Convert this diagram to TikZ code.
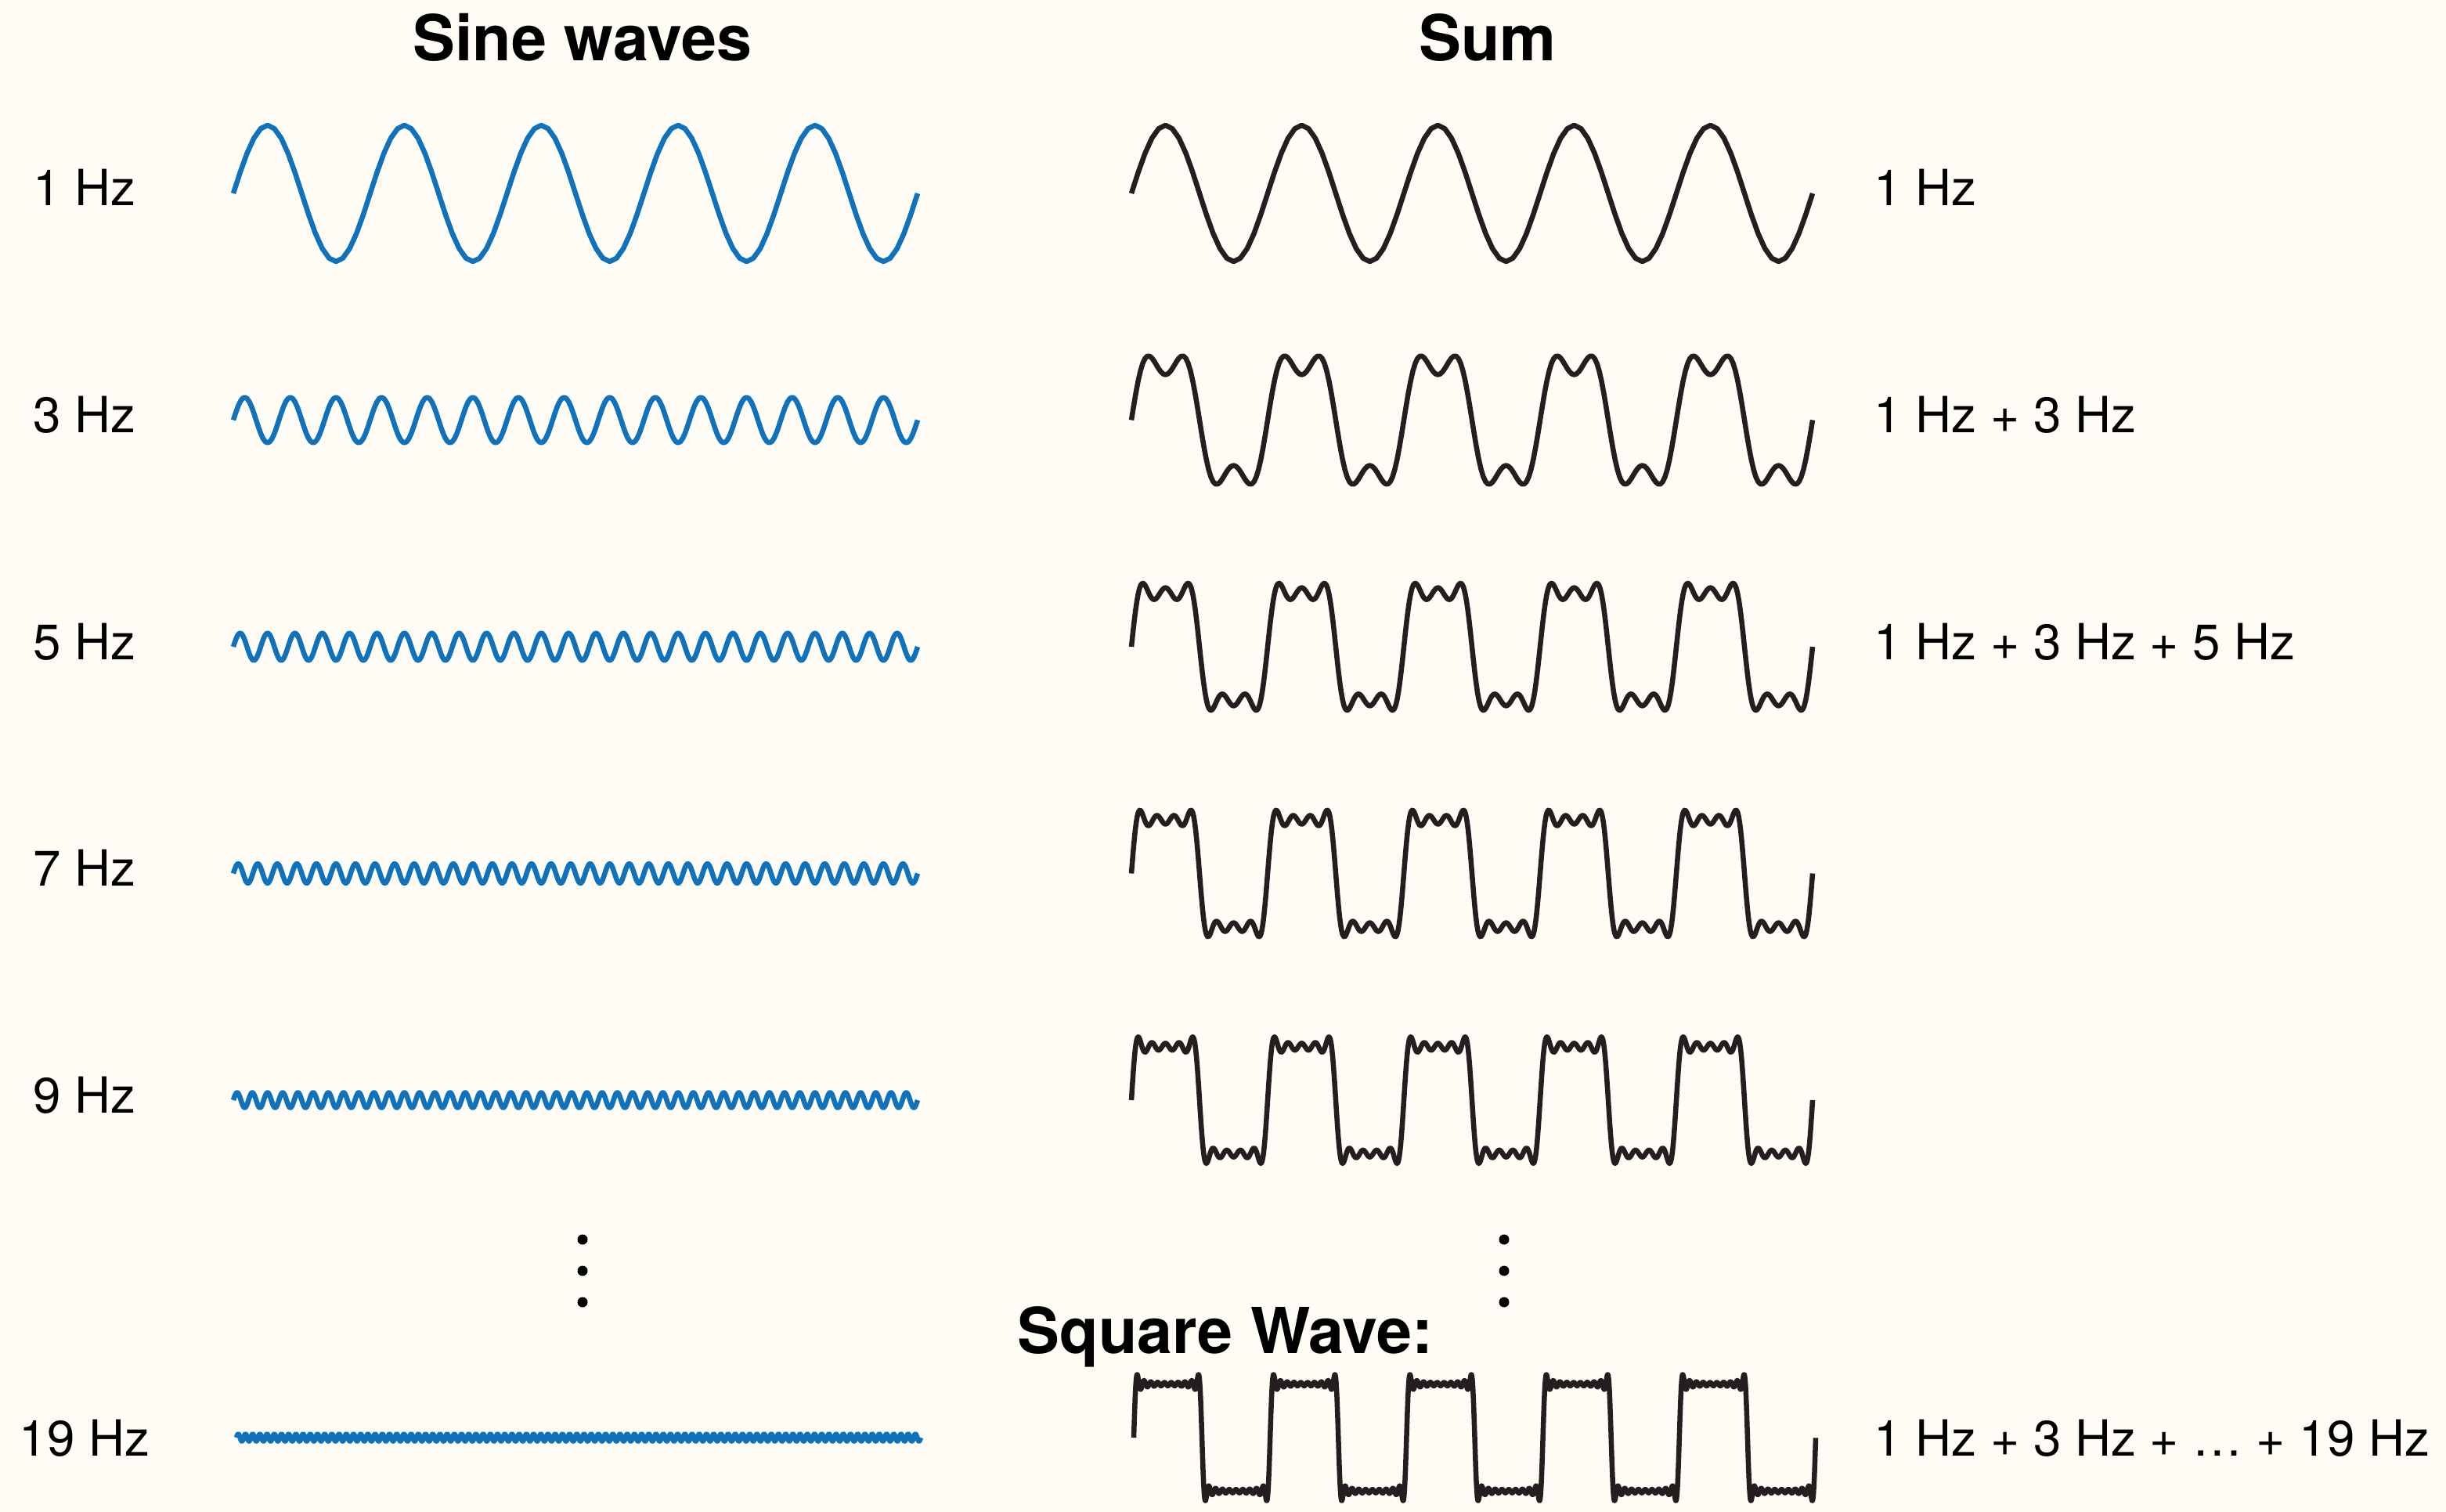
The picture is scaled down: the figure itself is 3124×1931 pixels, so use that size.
\documentclass[tikz,border=0pt]{standalone}
\usepackage{fontspec}
\setmainfont{TeX Gyre Heros}
\usepackage{tikz}
\usetikzlibrary{positioning}

\definecolor{paper}{HTML}{FFFCF5}
\definecolor{sineblue}{HTML}{0F72BA}
\definecolor{sumblack}{HTML}{231F20}

\begin{document}
\begin{tikzpicture}[x=0.01cm, y=-0.01cm,
    declare function={hm(\t,\k)=sin(\k*mod(\t,360))/\k;
      suma(\t)=hm(\t,1);
      sumb(\t)=suma(\t)+hm(\t,3);
      sumc(\t)=sumb(\t)+hm(\t,5);
      sumd(\t)=sumc(\t)+hm(\t,7);
      sume(\t)=sumd(\t)+hm(\t,9);
      sumj(\t)=sume(\t)+hm(\t,11)+hm(\t,13)+hm(\t,15)+hm(\t,17)+hm(\t,19);},
    lbl/.style={font=\fontsize{18.1}{20}\selectfont, inner sep=0pt},
    ttl/.style={font=\bfseries\fontsize{23}{26}\selectfont, inner sep=0pt},
    sinew/.style={sineblue, line width=1.85pt, line join=round},
    sumw/.style={sumblack, line width=1.85pt, line join=round}]
    % Paper
    \fill[paper] (0,0) rectangle (3124,1931);
    \useasboundingbox (0,0) rectangle (3124,1931);

    % Column titles
    \node[ttl, anchor=base] (sinetitle) at (744,78) {Sine waves};
    \node[ttl, anchor=base] (sumtitle) at (1900,78) {Sum};

    % Harmonics and running sums (0.485556 = 874/1800, 0.483333 = 870/1800)
    \foreach \f/\fn/\yc in {1/suma/247, 3/sumb/536.5, 5/sumc/826, 7/sumd/1115.5, 9/sume/1405} {
        \pgfmathtruncatemacro{\ns}{100*\f+1}
        \node[lbl, anchor=base] (hz\f) at (108,\yc+16) {\f\ Hz};
        \draw[sinew] plot[domain=0:1800, samples=\ns] ({298+0.485556*\x}, {\yc-87*hm(\x,\f)});
        \draw[sumw] plot[domain=0:1800, samples=\ns] ({1445+0.483333*\x}, {\yc-87*\fn(\x)});
    }
    \node[lbl, anchor=base west] (sum1) at (2393,263) {1 Hz};
    \node[lbl, anchor=base west] (sum3) at (2393,552.5) {1 Hz + 3 Hz};
    \node[lbl, anchor=base west] (sum5) at (2393,842) {1 Hz + 3 Hz + 5 Hz};

    % Dots
    \foreach \dx in {744,1921} {
        \foreach \dy in {1583,1623,1663} {
            \fill (\dx,\dy) circle (0.65mm);
        }
    }

    % Last harmonic and the square wave
    \node[ttl, anchor=base west] (square) at (1299,1728) {Square Wave:};
    \node[lbl, anchor=base] (hz19) at (108,1859) {19 Hz};
    \draw[sinew] plot[domain=0:1800, samples=1901] ({302+0.485556*\x}, {1836-87*hm(\x,19)});
    \draw[sumw] plot[domain=0:1800, samples=1901] ({1448+0.483889*\x}, {1836-87*sumj(\x)});
    \node[lbl, anchor=base west] (sum19) at (2393,1859) {1 Hz + 3 Hz + … + 19 Hz};
\end{tikzpicture}
\end{document}
